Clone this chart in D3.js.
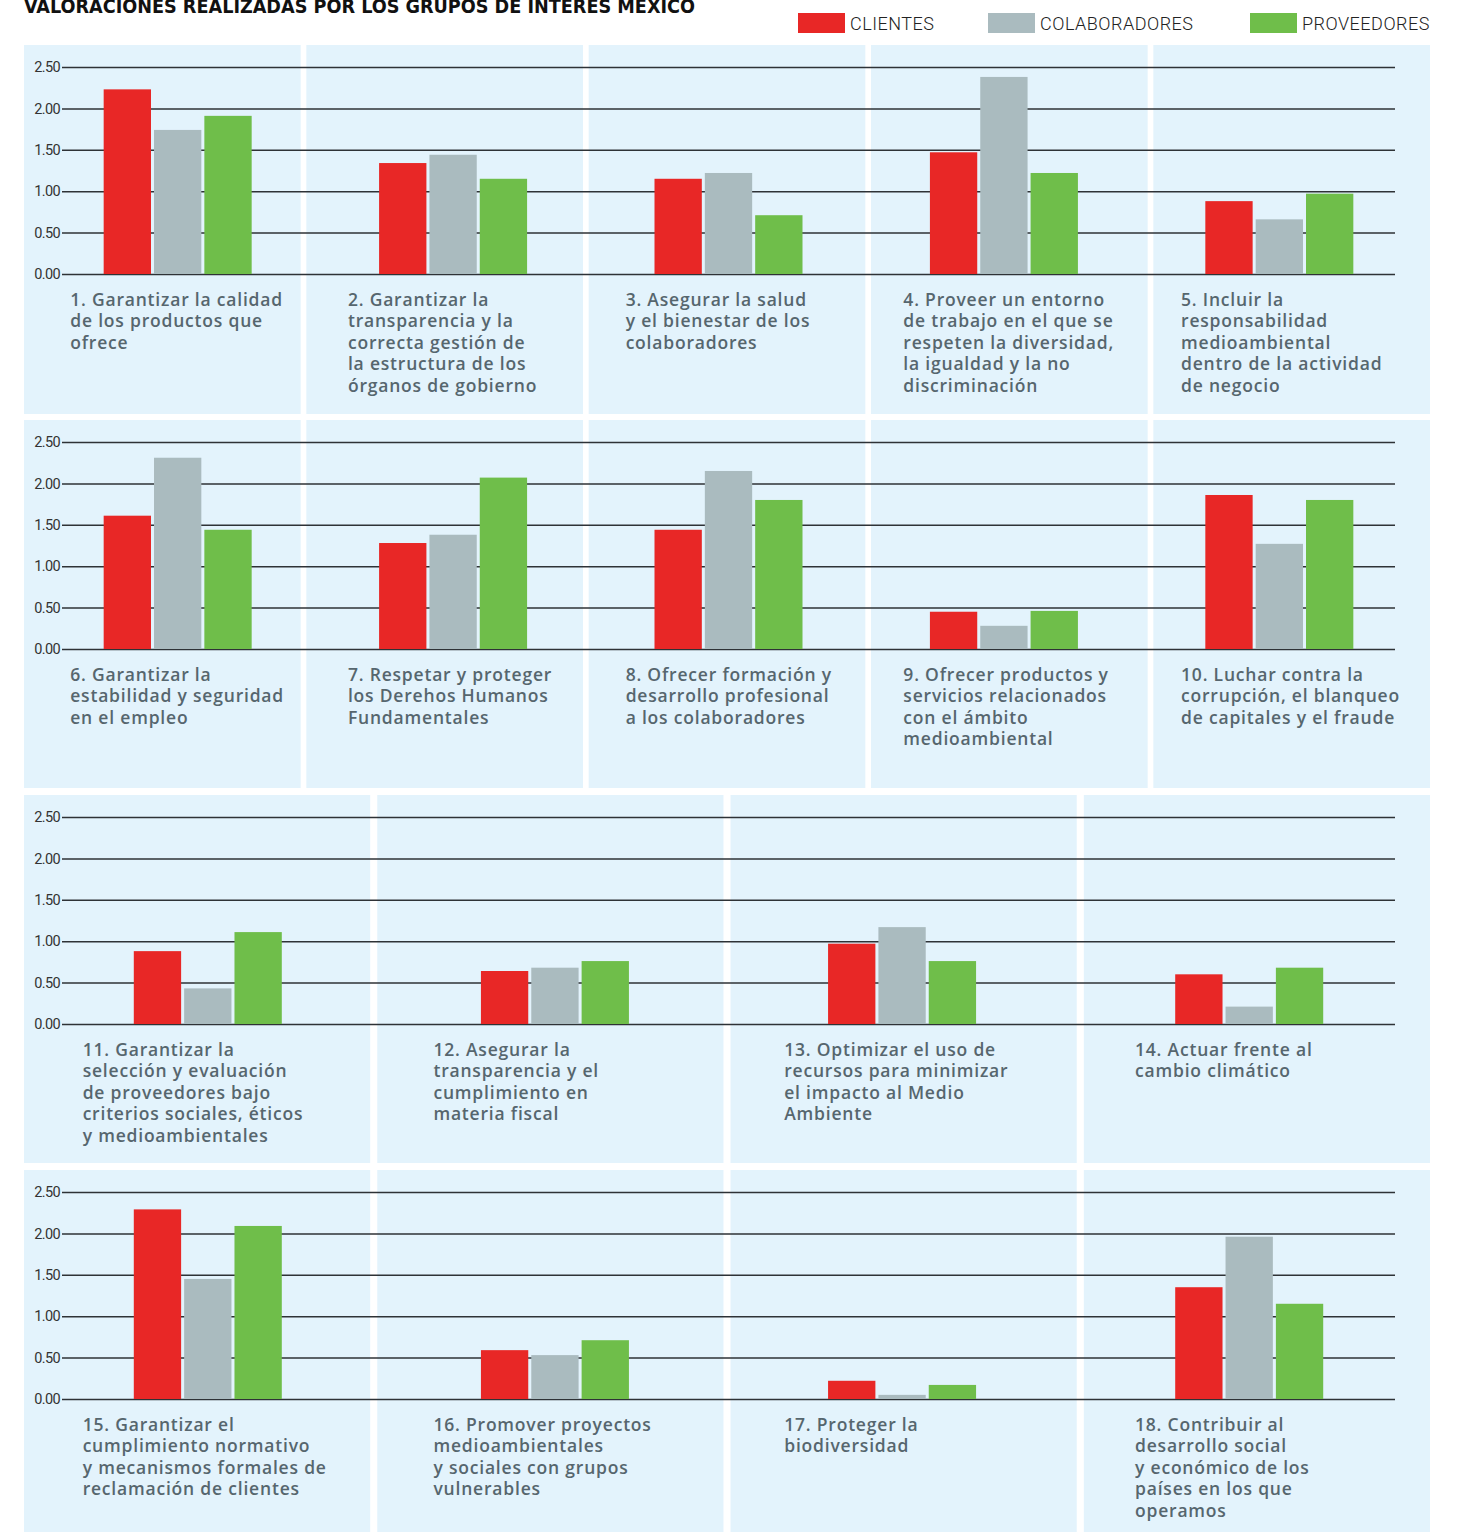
<!DOCTYPE html>
<html>
<head>
<meta charset="utf-8">
<script src="https://cdn.jsdelivr.net/npm/d3@7"></script>
<style>
  html, body { margin: 0; padding: 0; background: #ffffff; }
  svg { display: block; }
</style>
</head>
<body>
<svg id="chart" width="1462" height="1532"></svg>
<script>
// ---------- DATA ----------
const title = "VALORACIONES REALIZADAS POR LOS GRUPOS DE INTERES MEXICO";
const seriesNames = ["CLIENTES", "COLABORADORES", "PROVEEDORES"];
const categories = [
  ["1. Garantizar la calidad", "de los productos que", "ofrece"],
  ["2. Garantizar la", "transparencia y la", "correcta gestión de", "la estructura de los", "órganos de gobierno"],
  ["3. Asegurar la salud", "y el bienestar de los", "colaboradores"],
  ["4. Proveer un entorno", "de trabajo en el que se", "respeten la diversidad,", "la igualdad y la no", "discriminación"],
  ["5. Incluir la", "responsabilidad", "medioambiental", "dentro de la actividad", "de negocio"],
  ["6. Garantizar la", "estabilidad y seguridad", "en el empleo"],
  ["7. Respetar y proteger", "los Derehos Humanos", "Fundamentales"],
  ["8. Ofrecer formación y", "desarrollo profesional", "a los colaboradores"],
  ["9. Ofrecer productos y", "servicios relacionados", "con el ámbito", "medioambiental"],
  ["10. Luchar contra la", "corrupción, el blanqueo", "de capitales y el fraude"],
  ["11. Garantizar la", "selección y evaluación", "de proveedores bajo", "criterios sociales, éticos", "y medioambientales"],
  ["12. Asegurar la", "transparencia y el", "cumplimiento en", "materia fiscal"],
  ["13. Optimizar el uso de", "recursos para minimizar", "el impacto al Medio", "Ambiente"],
  ["14. Actuar frente al", "cambio climático"],
  ["15. Garantizar el", "cumplimiento normativo", "y mecanismos formales de", "reclamación de clientes"],
  ["16. Promover proyectos", "medioambientales", "y sociales con grupos", "vulnerables"],
  ["17. Proteger la", "biodiversidad"],
  ["18. Contribuir al", "desarrollo social", "y económico de los", "países en los que", "operamos"]
];
const clientes      = [2.23, 1.34, 1.15, 1.47, 0.88, 1.61, 1.28, 1.44, 0.45, 1.86, 0.88, 0.64, 0.97, 0.60, 2.29, 0.59, 0.22, 1.35];
const colaboradores = [1.74, 1.44, 1.22, 2.38, 0.66, 2.31, 1.38, 2.15, 0.28, 1.27, 0.43, 0.68, 1.17, 0.21, 1.45, 0.53, 0.05, 1.96];
const proveedores   = [1.91, 1.15, 0.71, 1.22, 0.97, 1.44, 2.07, 1.80, 0.46, 1.80, 1.11, 0.76, 0.76, 0.68, 2.09, 0.71, 0.17, 1.15];
const tickValues = [0, 0.5, 1.0, 1.5, 2.0, 2.5];
const rowSizes = [5, 5, 4, 4];

// ---------- STYLE / LAYOUT ----------
const colors = ["#e82726", "#aabbbf", "#6fbe4a"];
const panelBg = "#e3f3fc";
const labelColor = "#56666e";
const rowTops = [45, 420, 795, 1170];
const rowHeights = [369, 368, 368, 362];
const panelL = 24, panelR = 1430;
const gridL = 62, gridR = 1395;

const svg = d3.select("#chart");
const values = [clientes, colaboradores, proveedores];

// Title
svg.append("text")
  .attr("x", 24).attr("y", 13)
  .attr("font-family", "'Liberation Sans Narrow', 'DejaVu Sans Condensed', Roboto, sans-serif")
  .attr("font-weight", "bold")
  .attr("font-size", 20)
  .attr("fill", "#111")
  .attr("textLength", 671)
  .attr("lengthAdjust", "spacingAndGlyphs")
  .text(title);

// Legend
const legendX = d3.scaleOrdinal().domain(seriesNames).range([798, 988, 1250]);
const legend = svg.append("g");
seriesNames.forEach((s, i) => {
  legend.append("rect")
    .attr("x", legendX(s)).attr("y", 13).attr("width", 47).attr("height", 20)
    .attr("fill", colors[i]);
  legend.append("text")
    .attr("x", legendX(s) + 52).attr("y", 30)
    .attr("font-family", "Roboto, 'Liberation Sans', sans-serif")
    .attr("font-weight", 300)
    .attr("font-size", 18)
    .attr("letter-spacing", "0.5")
    .attr("fill", "#222")
    .text(s);
});

// Rows
let catIndex = 0;
rowSizes.forEach((n, r) => {
  const idx = d3.range(catIndex, catIndex + n);
  catIndex += n;
  const top = rowTops[r];
  const h = rowHeights[r];
  const g = svg.append("g");

  const xPanel = d3.scaleBand().domain(d3.range(n)).range([panelL, panelR]).paddingInner(0.02);
  const xGroup = d3.scalePoint().domain(d3.range(n)).range([gridL, gridR]).padding(0.42);
  const xLabel = d3.scalePoint().domain(d3.range(n)).range([gridL, gridR]).padding(0.4);
  const xSeries = d3.scaleBand().domain(seriesNames).range([-74, 74]).paddingInner(0.06);
  const y = d3.scaleLinear().domain([0, 2.5]).range([top + 229, top + 22]);
  const labelOffset = 0.23 * xLabel.step() + 39;

  // panel backgrounds
  g.selectAll("rect.panel").data(d3.range(n)).join("rect")
    .attr("class", "panel")
    .attr("x", d => xPanel(d)).attr("y", top)
    .attr("width", xPanel.bandwidth()).attr("height", h)
    .attr("fill", panelBg);

  // grid + axis
  const axis = d3.axisLeft(y).tickValues(tickValues).tickFormat(d3.format(".2f"))
    .tickSize(-(gridR - gridL)).tickPadding(2);
  const ag = g.append("g").attr("transform", `translate(${gridL},0)`).call(axis);
  ag.select(".domain").remove();
  ag.selectAll(".tick line").attr("stroke", "#2e3236").attr("stroke-width", 1.5);
  ag.selectAll(".tick text")
    .attr("font-family", "Roboto, 'Liberation Sans', sans-serif")
    .attr("font-size", 14.5)
    .attr("letter-spacing", "-0.6")
    .attr("fill", "#333");

  // bars
  idx.forEach((ci, j) => {
    const cx = xGroup(j);
    seriesNames.forEach((s, si) => {
      const v = values[si][ci];
      g.append("rect")
        .attr("x", cx + xSeries(s))
        .attr("y", y(v))
        .attr("width", xSeries.bandwidth())
        .attr("height", y(0) - y(v))
        .attr("fill", colors[si]);
    });
    // labels
    const lx = xLabel(j) - labelOffset;
    const t = g.append("text")
      .attr("x", lx)
      .attr("y", y(0) + 32)
      .attr("font-family", "'Open Sans', 'Noto Sans', sans-serif")
      .attr("font-weight", 600)
      .attr("font-size", 17.5)
      .attr("letter-spacing", "0.8")
      .attr("fill", labelColor);
    categories[ci].forEach((line, li) => {
      t.append("tspan")
        .attr("x", lx)
        .attr("dy", li === 0 ? 0 : 21.4)
        .text(line);
    });
  });
});
</script>
</body>
</html>
